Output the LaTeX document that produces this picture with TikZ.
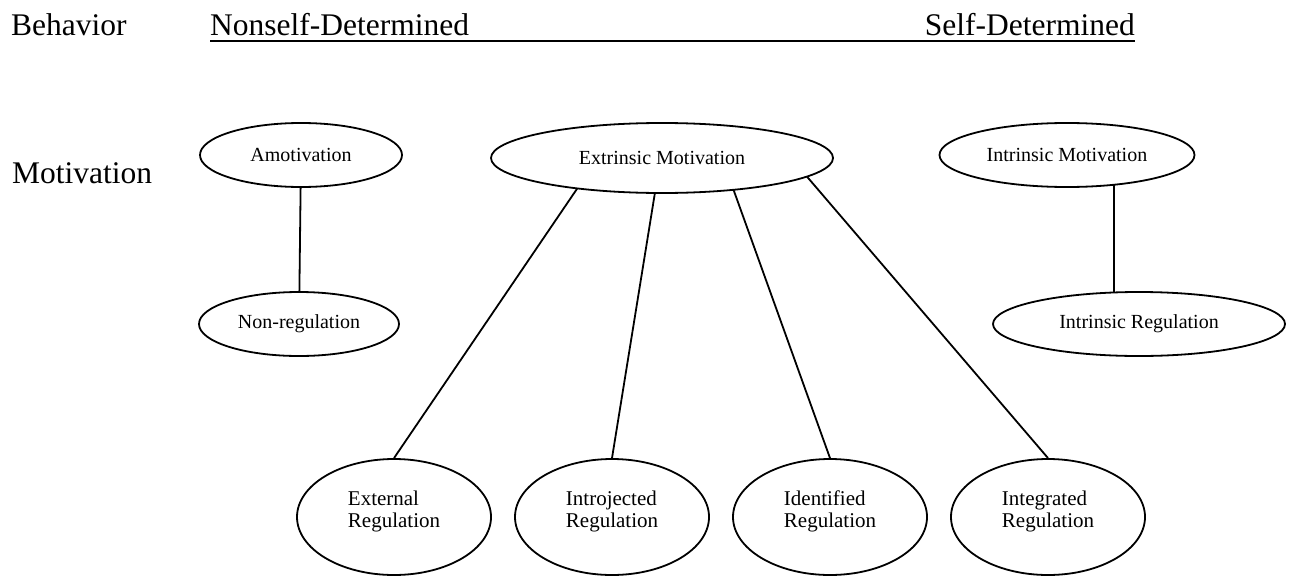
\documentclass[tikz,border=0pt]{standalone}
\usepackage{fontspec}
\setmainfont{Liberation Serif}
\usetikzlibrary{shapes.geometric,calc,backgrounds}
\begin{document}
\begin{tikzpicture}[x=1pt,y=-1pt,
  ell/.style={ellipse,draw,fill=white,line width=1.8pt,inner sep=0pt,font=\fontsize{20}{22}\selectfont},
  lowell/.style={ell,minimum width=194pt,minimum height=116pt,align=left,
    font=\fontsize{21}{22}\selectfont,text depth=16pt},
  big/.style={font=\fontsize{31.5}{34}\selectfont,inner sep=0pt},
  conn/.style={line width=1.8pt}]
\useasboundingbox (0,0) rectangle (1289,578);
\node[big,anchor=base west] (beh) at (11,36) {Behavior};
\node[big,anchor=base west] (nsd) at (210,36) {Nonself-Determined};
\node[big,anchor=base east] (sd) at (1135,36) {Self-Determined};
\coordinate (ulA) at (210,41);
\coordinate (ulB) at (1135,41);
\draw[line width=2.6pt] (ulA) -- (ulB);
\node[big,anchor=base west] (mot) at (12,183) {Motivation};

\node[ell,minimum width=202pt,minimum height=64pt] (amo) at (301,155) {Amotivation};
\node[ell,minimum width=342pt,minimum height=70pt] (ext) at (662,158) {Extrinsic Motivation};
\node[ell,minimum width=255pt,minimum height=64pt] (intm) at (1067,155) {Intrinsic Motivation};
\node[ell,minimum width=200pt,minimum height=64pt] (nonreg) at (299,324) {Non-regulation};
\node[ell,minimum width=292pt,minimum height=64pt] (intreg) at (1139,324) {Intrinsic Regulation};

\node[lowell] (er) at (394,517) {External\\Regulation};
\node[lowell] (ir) at (612,517) {Introjected\\Regulation};
\node[lowell] (idr) at (830,517) {Identified\\Regulation};
\node[lowell] (igr) at (1048,517) {Integrated\\Regulation};

\coordinate (s1) at (583,180);
\coordinate (s2) at (657,180);
\coordinate (s3) at (730,180);
\coordinate (s4) at (803,172);
\coordinate (v1) at (1114,170);
\coordinate (v2) at (1114,310);

\begin{scope}[on background layer]
\draw[conn] (amo.center) -- (nonreg.center);
\draw[conn] (v1) -- (v2);
\draw[conn] (s1) -- (er.north);
\draw[conn] (s2) -- (ir.north);
\draw[conn] (s3) -- (idr.north);
\draw[conn] (s4) -- (igr.north);
\end{scope}
\end{tikzpicture}
\end{document}
